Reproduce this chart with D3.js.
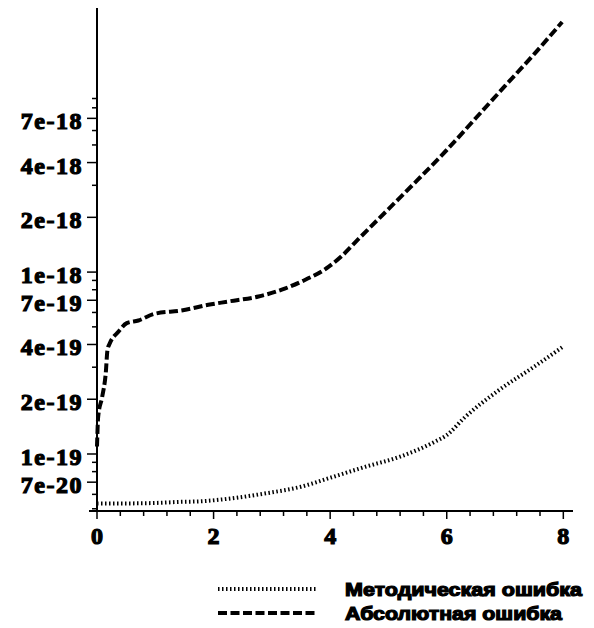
<!DOCTYPE html>
<html>
<head>
<meta charset="utf-8">
<script src="https://cdn.jsdelivr.net/npm/d3@7"></script>
<style>
  body { margin: 0; background: #fff; }
  svg { display: block; }
</style>
</head>
<body>
<div id="chart"></div>
<script>
// data
const tAbs = [0, 0.02, 0.09, 0.15, 0.18, 0.22, 0.37, 0.51, 0.71, 0.99, 1.45, 1.91, 2.25, 2.77, 3.17, 3.51, 3.97, 4.2, 4.45, 5.0, 5.5, 6.0, 6.5, 7.0, 7.5, 7.98];
const errAbs = [1.1e-19, 1.6e-19, 2.07e-19, 2.78e-19, 3.74e-19, 4.06e-19, 4.71e-19, 5.24e-19, 5.42e-19, 5.9e-19, 6.15e-19, 6.61e-19, 6.89e-19, 7.34e-19, 8.0e-19, 8.88e-19, 1.067e-18, 1.226e-18, 1.48e-18, 2.22e-18, 3.21e-18, 4.69e-18, 7.03e-18, 1.055e-17, 1.58e-17, 2.37e-17];

const tMet = [0, 0.5, 1.0, 1.4, 1.8, 2.3, 2.9, 3.5, 4.0, 4.6, 5.2, 5.8, 6.0, 6.3, 6.9, 7.5, 8.0];
const errMet = [5.35e-20, 5.35e-20, 5.38e-20, 5.45e-20, 5.5e-20, 5.7e-20, 6.08e-20, 6.61e-20, 7.4e-20, 8.5e-20, 9.67e-20, 1.17e-19, 1.27e-19, 1.58e-19, 2.25e-19, 3.02e-19, 3.9e-19];

const xTicks = [0, 2, 4, 6, 8];
const yTickLabels = ["7e-20", "1e-19", "2e-19", "4e-19", "7e-19", "1e-18", "2e-18", "4e-18", "7e-18"];
const legendNames = ["Методическая ошибка", "Абсолютная ошибка"];

const width = 594, height = 628;

const svg = d3.select("#chart")
  .append("svg")
  .attr("width", width)
  .attr("height", height);

const x = d3.scaleLinear().domain([0, 8.166]).range([97, 573]);
const y = d3.scaleLog().domain([4.86e-20, 2.83e-17]).range([511, 8]);

// minor ticks every 0.4 on x
const xMinor = d3.range(0, 8.17, 0.4).filter(v => Math.abs(v / 2 - Math.round(v / 2)) > 1e-6);

// minor ticks on y: 3,5,6,8,9 of each decade in range
const yMinor = [];
[-20, -19, -18, -17].forEach(e => {
  [3, 5, 6, 8, 9].forEach(m => {
    const v = m * Math.pow(10, e);
    if (v >= 4.86e-20 && v <= 2.83e-17) yMinor.push(v);
  });
});

const axisColor = "#000";

// x axis
const gx = svg.append("g").attr("transform", "translate(0,511)");
gx.append("line").attr("x1", 89).attr("x2", 573).attr("y1", 0).attr("y2", 0)
  .attr("stroke", axisColor).attr("stroke-width", 2);
gx.selectAll(".xmin").data(xMinor).enter().append("line")
  .attr("x1", d => x(d)).attr("x2", d => x(d)).attr("y1", 0).attr("y2", 5)
  .attr("stroke", axisColor).attr("stroke-width", 1.5);
gx.selectAll(".xmaj").data(xTicks).enter().append("line")
  .attr("x1", d => x(d)).attr("x2", d => x(d)).attr("y1", 0).attr("y2", 8)
  .attr("stroke", axisColor).attr("stroke-width", 1.5);
gx.selectAll("text").data(xTicks).enter().append("text")
  .attr("x", d => x(d)).attr("y", 33)
  .attr("text-anchor", "middle")
  .attr("font-family", "Liberation Serif, serif")
  .attr("font-weight", "bold")
  .attr("font-size", 24)
  .attr("stroke", "#000").attr("stroke-width", 1.2)
  .text(d => d);

// y axis
const gy = svg.append("g");
gy.append("line").attr("x1", 97).attr("x2", 97).attr("y1", 8).attr("y2", 511)
  .attr("stroke", axisColor).attr("stroke-width", 2);
gy.selectAll(".ymin").data(yMinor).enter().append("line")
  .attr("x1", 92).attr("x2", 97).attr("y1", d => y(d)).attr("y2", d => y(d))
  .attr("stroke", axisColor).attr("stroke-width", 1.5);
gy.selectAll(".ymaj").data(yTickLabels).enter().append("line")
  .attr("x1", 87).attr("x2", 97).attr("y1", d => y(+d)).attr("y2", d => y(+d))
  .attr("stroke", axisColor).attr("stroke-width", 1.5);
gy.selectAll("text").data(yTickLabels).enter().append("text")
  .attr("x", 83).attr("y", d => y(+d) + 11)
  .attr("text-anchor", "end")
  .attr("font-family", "Liberation Serif, serif")
  .attr("font-weight", "bold")
  .attr("font-size", 24)
  .attr("letter-spacing", 1.5)
  .attr("stroke", "#000").attr("stroke-width", 1.2)
  .text(d => d);

// lines
const line = d3.line()
  .x(d => x(d[0]))
  .y(d => y(d[1]))
  .curve(d3.curveMonotoneX);

const absData = tAbs.map((t, i) => [t, errAbs[i]]);
const metData = tMet.map((t, i) => [t, errMet[i]]);

svg.append("path").datum(metData)
  .attr("d", line)
  .attr("fill", "none")
  .attr("stroke", "#000")
  .attr("stroke-width", 4)
  .attr("stroke-dasharray", "1.5,2.5");

svg.append("path").datum(absData)
  .attr("d", line)
  .attr("fill", "none")
  .attr("stroke", "#000")
  .attr("stroke-width", 4)
  .attr("stroke-dasharray", "9,3.5");

// legend
const styles = [
  { w: 4, dash: "1.5,2.5", len: 237 },
  { w: 4, dash: "9,3.5", len: 217 }
];
const lg = svg.append("g");
legendNames.forEach((name, i) => {
  const yy = 589 + i * 24;
  lg.append("line")
    .attr("x1", 218).attr("x2", 316).attr("y1", yy).attr("y2", yy)
    .attr("stroke", "#000")
    .attr("stroke-width", styles[i].w)
    .attr("stroke-dasharray", styles[i].dash);
  lg.append("text")
    .attr("x", 345).attr("y", yy + 7)
    .attr("font-family", "Liberation Sans, Arial, sans-serif")
    .attr("font-weight", "bold")
    .attr("font-size", 18)
    .attr("stroke", "#000").attr("stroke-width", 1.2)
    .attr("textLength", styles[i].len)
    .attr("lengthAdjust", "spacingAndGlyphs")
    .text(name);
});
</script>
</body>
</html>
